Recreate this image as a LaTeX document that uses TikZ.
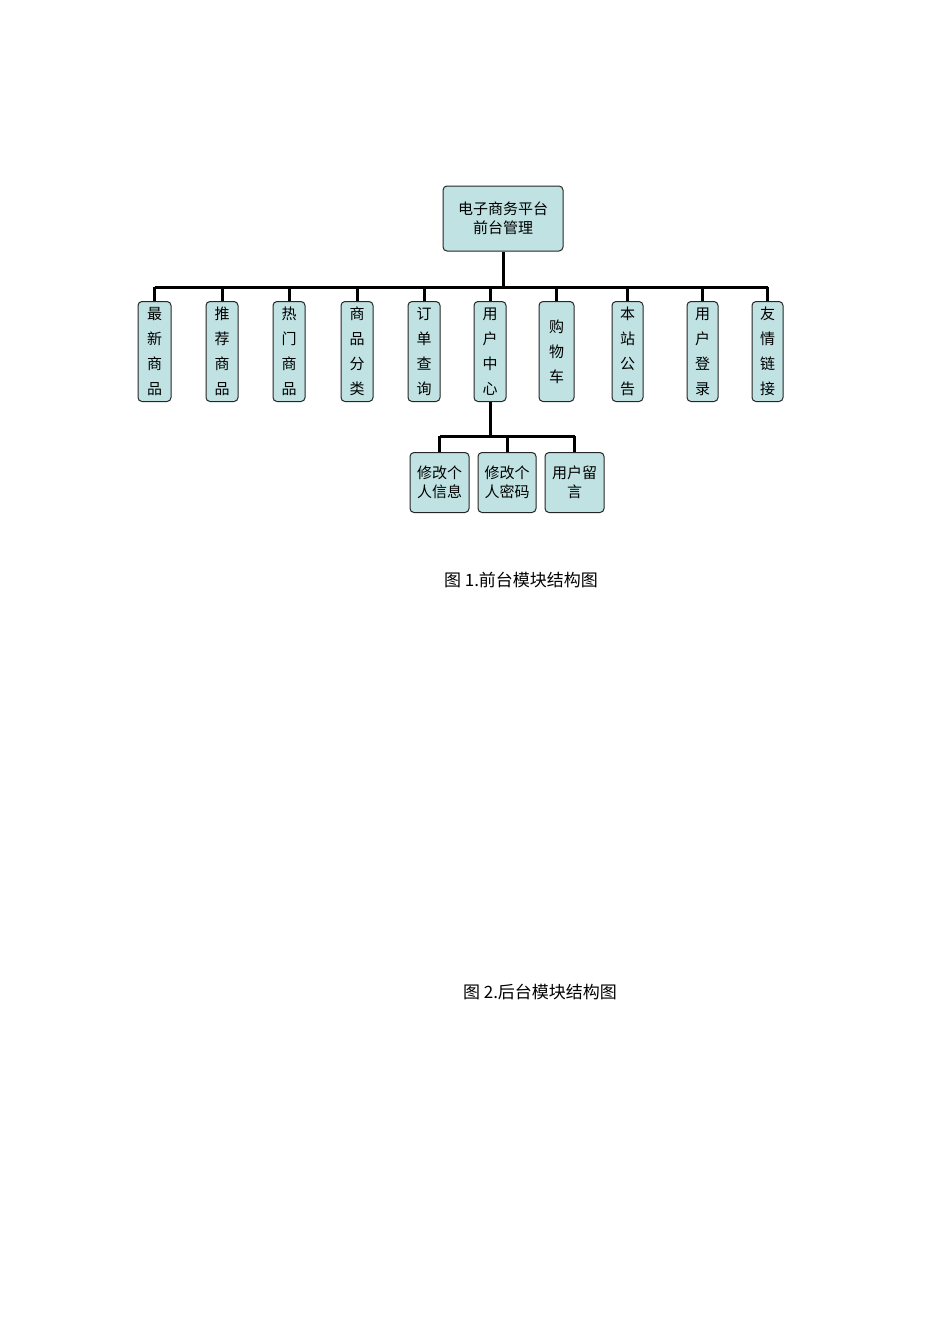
\documentclass[tikz,border=0pt]{standalone}
\usepackage{fontspec}
\newfontfamily\cjk{Noto Sans CJK SC}
\definecolor{boxfill}{RGB}{192,226,226}
\begin{document}
\begin{tikzpicture}[x=1pt,y=-1pt,
  box/.style={draw=black!85,line width=1pt,fill=boxfill,rounded corners=4pt,inner sep=0pt,font=\cjk\fontsize{15}{19}\selectfont,align=center},
  bus/.style={line width=3pt}]
\useasboundingbox (0,0) rectangle (950,1344);
\node[box,minimum width=120,minimum height=65] (root) at (503,218.5) {电子商务平台\\前台管理};
\foreach \n/\x/\w/\t in {a/154.5/33/最\\新\\商\\品, b/222/32/推\\荐\\商\\品, c/289/32/热\\门\\商\\品, d/357/32/商\\品\\分\\类, e/424/32/订\\单\\查\\询, f/490/32/用\\户\\中\\心, g/556.5/35/购\\物\\车, h/627.5/31/本\\站\\公\\告, i/702.5/31/用\\户\\登\\录, j/767.5/31/友\\情\\链\\接}{
  \node[box,minimum width=\w,minimum height=100,anchor=north,font=\cjk\fontsize{15}{25}\selectfont] (\n) at (\x,301) {\t};
  \draw[bus] (\n.north) -- (\n.north |- 0,287);
}
\draw[bus] (a.north |- 0,287) -- (j.north |- 0,287);
\draw[bus] (root.south) -- (root.south |- 0,287);
\node[box,minimum width=59,minimum height=60,anchor=north] (s1) at (439.5,452) {修改个\\人信息};
\node[box,minimum width=58,minimum height=60,anchor=north] (s2) at (507,452) {修改个\\人密码};
\node[box,minimum width=59,minimum height=60,anchor=north] (s3) at (574.5,452) {用户留\\言};
\draw[bus] (f.south) -- (f.south |- 0,436);
\draw[bus] (s1.north |- 0,436) -- (s3.north |- 0,436);
\foreach \s in {s1,s2,s3}{\draw[bus] (\s.north) -- (\s.north |- 0,436);}
\node[font=\cjk\fontsize{17}{20}\selectfont] (cap1) at (521,580) {图 1.前台模块结构图};
\node[font=\cjk\fontsize{17}{20}\selectfont] (cap2) at (540,992) {图 2.后台模块结构图};
\end{tikzpicture}
\end{document}
